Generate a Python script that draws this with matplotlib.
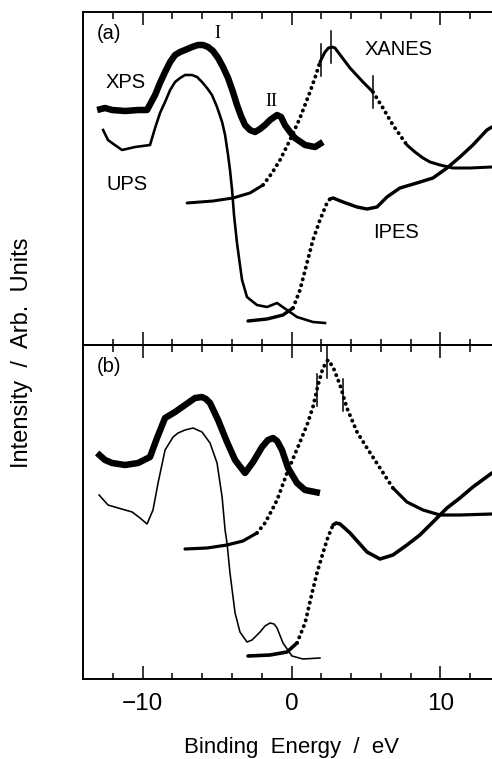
import numpy as np
import matplotlib
matplotlib.use("Agg")
import matplotlib.pyplot as plt

# ---------------- data (energy in eV, intensity in arbitrary units) ----------------
# Panel (a)
xps_a_e = [-13.05, -12.52, -12.05, -11.17, -10.30, -9.70, -9.16, -8.83, -8.49, -8.15, -7.82,
           -7.48, -7.15, -6.68, -6.28, -5.94, -5.60, -5.27, -4.93, -4.60, -4.26, -3.93, -3.66,
           -3.39, -3.12, -2.79, -2.45, -2.11, -1.78, -1.44, -0.97, -0.70, -0.44, -0.10, 0.23,
           0.91, 1.58, 2.11]
xps_a_i = [235, 237, 235, 234, 235, 235, 250, 262, 273, 283, 290, 293, 295, 298, 300, 300, 298,
           294, 287, 278, 267, 253, 240, 229, 220, 215, 213, 216, 220, 225, 230, 228, 220, 213,
           207, 200, 198, 203]

ups_a_e = [-12.65, -12.32, -12.05, -11.38, -10.50, -9.50, -9.16, -8.83, -8.49, -8.15, -7.82,
           -7.48, -7.15, -6.68, -6.34, -6.01, -5.67, -5.34, -5.00, -4.66, -4.46, -4.26, -4.13,
           -3.99, -3.86, -3.66, -3.46, -3.32, -2.99, -2.32, -1.64, -0.97, -0.30, 0.37, 1.44,
           2.25]
ups_a_i = [215, 205, 202, 195, 198, 200, 217, 232, 243, 255, 263, 267, 270, 270, 268, 263, 257,
           250, 238, 223, 210, 190, 175, 155, 130, 102, 80, 65, 48, 40, 38, 42, 35, 28, 23, 22]

xanes_a_e = [-7.01, -5.27, -3.93, -2.79, -1.91, -1.31, -0.77, -0.10, 0.57, 1.24, 1.64, 1.91,
             2.25, 2.48, 2.72, 2.92, 3.12, 3.93, 4.80, 5.47, 6.14, 6.81, 7.75, 8.29, 8.83,
             9.30, 9.97, 10.84, 11.98, 13.46]
xanes_a_i = [142, 144, 147, 152, 160, 172, 185, 205, 227, 253, 270, 283, 293, 297, 298, 297,
             293, 277, 263, 253, 237, 220, 200, 193, 187, 183, 180, 177, 177, 178]
xanes_a_marks = [1.98, 2.65, 5.47]

ipes_a_e = [-2.92, -1.64, -0.57, 0.10, 0.57, 1.04, 1.44, 1.91, 2.38, 2.58, 2.79, 3.46, 4.40,
            5.07, 5.74, 6.41, 7.28, 8.42, 9.50, 10.44, 11.31, 12.18, 13.12, 13.46]
ipes_a_i = [24, 26, 30, 37, 55, 82, 105, 125, 142, 146, 147, 143, 138, 136, 138, 148, 157, 162,
            167, 177, 188, 200, 215, 218]

# Panel (b)
xps_b_e = [-13.05, -12.52, -12.05, -11.17, -10.30, -9.50, -9.03, -8.49, -7.82, -7.15, -6.48,
           -6.01, -5.74, -5.47, -4.93, -4.33, -3.79, -3.12, -2.58, -1.98, -1.58, -1.24, -0.97,
           -0.64, -0.23, 0.37, 0.91, 1.91]
xps_b_i = [226, 219, 216, 214, 216, 222, 241, 261, 267, 274, 281, 282, 280, 276, 259, 237, 219,
           206, 217, 232, 239, 241, 238, 229, 211, 196, 189, 186]

ups_b_e = [-12.92, -12.32, -11.64, -10.70, -10.17, -9.70, -9.30, -8.96, -8.49, -7.95, -7.62,
           -7.15, -6.61, -6.01, -5.47, -5.00, -4.66, -4.46, -4.33, -4.13, -3.79, -3.46, -2.99,
           -2.65, -2.11, -1.78, -1.44, -1.17, -0.97, -0.57, 0.03, 0.77, 1.91]
ups_b_i = [184, 174, 171, 167, 161, 155, 169, 196, 229, 242, 246, 249, 251, 247, 236, 216, 182,
           149, 136, 106, 66, 47, 37, 39, 47, 53, 56, 55, 51, 36, 23, 20, 21]

xanes_b_e = [-7.15, -5.67, -4.33, -3.26, -2.32, -1.78, -1.31, -0.97, -0.30, 0.57, 1.04, 1.44,
             1.78, 2.11, 2.45, 2.79, 3.26, 3.72, 4.40, 5.07, 5.94, 6.81, 7.75, 8.83, 9.97,
             11.31, 13.46]
xanes_b_i = [130, 131, 134, 138, 146, 156, 169, 179, 206, 237, 254, 272, 294, 311, 319, 312,
             294, 271, 247, 231, 211, 191, 177, 169, 164, 164, 165]
xanes_b_marks = [1.71, 2.38, 3.46]

ipes_b_e = [-2.92, -1.44, -0.30, 0.37, 0.91, 1.38, 1.71, 2.11, 2.45, 2.79, 2.99, 3.26, 3.93,
            5.07, 5.94, 6.81, 7.75, 8.62, 9.50, 10.44, 11.31, 12.18, 13.46]
ipes_b_i = [23, 24, 27, 36, 56, 86, 106, 126, 142, 154, 156, 155, 146, 127, 120, 124, 134, 144,
            157, 171, 181, 192, 206]

# energy ranges drawn as dotted (sparse data points in the measurement)
xanes_a_dotted = [(-1.9, 2.0), (5.7, 8.0)]
ipes_a_dotted = [(0.3, 2.6)]
xanes_b_dotted = [(-2.4, 6.5)]
ipes_b_dotted = [(0.5, 2.8)]

xticks_major = [-10, 0, 10]
xtick_labels = ["\u221210", "0", "10"]

# ---------------- figure ----------------
W, H = 492, 759
fig = plt.figure(figsize=(W / 100, H / 100), dpi=100)
SANS = "Liberation Sans"
SERIF = "Liberation Serif"

left = 83 / W
width = (500 - 83) / W
ax_a = fig.add_axes([left, 1 - 345 / H, width, 333 / H])
ax_b = fig.add_axes([left, 1 - 679 / H, width, 334 / H])

PT = 0.72  # points per pixel at dpi 100


def styled_line(ax, x, y, dotted_ranges, lw_solid, lw_dot):
    x = np.asarray(x, float)
    y = np.asarray(y, float)
    mid = (x[:-1] + x[1:]) / 2
    dotted = np.zeros(len(mid), bool)
    for lo, hi in dotted_ranges:
        dotted |= (mid > lo) & (mid < hi)
    start = 0
    for i in range(1, len(mid) + 1):
        if i == len(mid) or dotted[i] != dotted[start]:
            xs, ys = x[start:i + 1], y[start:i + 1]
            if dotted[start]:
                ax.plot(xs, ys, color="k", lw=lw_dot, linestyle=(0, (0.05, 1.5)),
                        dash_capstyle="round")
            else:
                ax.plot(xs, ys, color="k", lw=lw_solid, solid_capstyle="round",
                        solid_joinstyle="round")
            start = i


def marks(ax, x, y, where, half=16):
    for e in where:
        c = np.interp(e, x, y)
        ax.plot([e, e], [c - half, c + half], color="k", lw=1.1)


for ax, ylim in ((ax_a, 333), (ax_b, 334)):
    ax.set_xlim(-14, 14)
    ax.set_ylim(0, ylim)
    ax.set_yticks([])
    ax.set_xticks(xticks_major)
    ax.set_xticks(np.arange(-12, 14, 2), minor=True)
    ax.tick_params(axis="x", which="both", direction="in", top=True, bottom=True,
                   width=1.1, color="k")
    ax.tick_params(axis="x", which="major", length=13 * PT)
    ax.tick_params(axis="x", which="minor", length=6.5 * PT)
    for s in ax.spines.values():
        s.set_linewidth(1.4)
    ax.set_facecolor("none")

ax_a.tick_params(axis="x", labelbottom=False)
ax_b.set_xticklabels(xtick_labels, fontfamily=SANS, fontsize=17.5)
ax_b.tick_params(axis="x", which="major", pad=10)

# panel (a)
ax_a.plot(xps_a_e, xps_a_i, color="k", lw=6.5 * PT, solid_joinstyle="round",
          solid_capstyle="butt")
ax_a.plot(ups_a_e, ups_a_i, color="k", lw=2.6 * PT, solid_joinstyle="round")
styled_line(ax_a, xanes_a_e, xanes_a_i, xanes_a_dotted, 3.0 * PT, 3.9 * PT)
styled_line(ax_a, ipes_a_e, ipes_a_i, ipes_a_dotted, 3.4 * PT, 3.9 * PT)
marks(ax_a, xanes_a_e, xanes_a_i, xanes_a_marks)

# panel (b)
ax_b.plot(xps_b_e, xps_b_i, color="k", lw=6.5 * PT, solid_joinstyle="round",
          solid_capstyle="butt")
ax_b.plot(ups_b_e, ups_b_i, color="k", lw=1.6 * PT, solid_joinstyle="round")
styled_line(ax_b, xanes_b_e, xanes_b_i, xanes_b_dotted, 3.2 * PT, 3.9 * PT)
styled_line(ax_b, ipes_b_e, ipes_b_i, ipes_b_dotted, 3.6 * PT, 3.9 * PT)
marks(ax_b, xanes_b_e, xanes_b_i, xanes_b_marks)


def ftext(px, py, s, **kw):
    fig.text(px / W, 1 - py / H, s, **kw)


LBL = dict(fontfamily=SANS, fontsize=14.5, color="k")
ftext(97, 24, "(a)", ha="left", va="top", **LBL)
ftext(97, 357, "(b)", ha="left", va="top", **LBL)
ftext(106, 88, "XPS", ha="left", va="baseline", **LBL)
ftext(106, 190, "UPS", ha="left", va="baseline", **LBL)
ftext(365, 55, "XANES", ha="left", va="baseline", **LBL)
ftext(373, 238, "IPES", ha="left", va="baseline", **LBL)
ftext(217.5, 38, "I", ha="center", va="baseline", fontfamily=SERIF, fontsize=13)
ftext(271.5, 106, "II", ha="center", va="baseline", fontfamily=SERIF, fontsize=13)

ftext(291.5, 753, "Binding  Energy  /  eV", ha="center", va="baseline",
      fontfamily=SANS, fontsize=16)
ftext(22.5, 353, "Intensity  /  Arb.  Units", ha="center", va="center", rotation=90,
      fontfamily=SANS, fontsize=17)

fig.savefig("out.png", dpi=100)
